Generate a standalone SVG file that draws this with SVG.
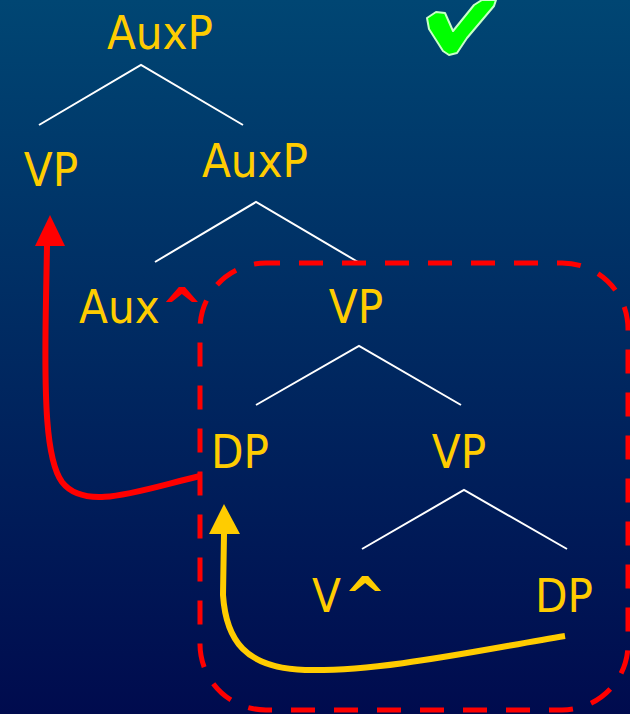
<svg xmlns="http://www.w3.org/2000/svg" width="630" height="714" viewBox="0 0 630 714">
  <defs>
    <linearGradient id="bg" x1="0" y1="0" x2="0" y2="1">
      <stop offset="0" stop-color="#004673"/>
      <stop offset="1" stop-color="#000B4E"/>
    </linearGradient>
  </defs>
  <style>
    .lbl { font-family: "DejaVu Sans Condensed", "DejaVu Sans", sans-serif; font-size: 47px; fill: #FFCC00; }
    .hat { font-weight: bold; font-size: 56px; }
    .red { fill: #FF0000; }
    .branch { stroke: #FFFFFF; stroke-width: 2; fill: none; }
  </style>

  <rect width="630" height="714" fill="url(#bg)"/>

  <!-- tick mark -->
  <polygon points="427,18 436,12 445,13 453,31 474,5 482,0 496,0 494,6 467,38 457,53 449,55 443,51 429,29" fill="#00FF00" stroke="#C8FFC8" stroke-width="2" stroke-linejoin="round"/>

  <!-- tree branches -->
  <g id="branches">
    <polyline class="branch" points="39,125 141,65 243,125"/>
    <polyline class="branch" points="155,262 256,202 358,262"/>
    <polyline class="branch" points="256,405 359,346 461,405"/>
    <polyline class="branch" points="362,549 464,490 567,549"/>
  </g>

  <!-- nodes -->
  <g id="auxp-root"><text class="lbl" x="160" y="49" text-anchor="middle">AuxP</text></g>
  <g id="vp-spec"><text class="lbl" x="51" y="186" text-anchor="middle">VP</text></g>
  <g id="auxp-bar"><text class="lbl" x="255" y="177" text-anchor="middle">AuxP</text></g>
  <g id="aux-head"><text class="lbl" x="79" y="323">Aux<tspan class="hat red" dx="1" dy="4">^</tspan></text></g>
  <g id="vp-comp"><text class="lbl" x="356" y="323" text-anchor="middle">VP</text></g>
  <g id="dp-spec"><text class="lbl" x="240" y="468" text-anchor="middle">DP</text></g>
  <g id="vp-inner"><text class="lbl" x="459" y="468" text-anchor="middle">VP</text></g>
  <g id="v-head"><text class="lbl" x="312" y="612">V<tspan class="hat" dx="3" dy="4">^</tspan></text></g>
  <g id="dp-obj"><text class="lbl" x="564" y="612" text-anchor="middle">DP</text></g>

  <!-- movement box and arrows -->
  <g id="connectors">
    <rect x="200" y="263" width="428" height="447" rx="66" ry="66" fill="none" stroke="#FF0000" stroke-width="5" stroke-dasharray="24 19" stroke-dashoffset="10"/>
    <path d="M200,476 C140,490 85,512 62,482 C46,460 44,400 46,300 L47,246" fill="none" stroke="#FF0000" stroke-width="6"/>
    <polygon points="50,215 35,246 65,246" fill="#FF0000"/>
    <path d="M565,636 C480,650 380,672 305,670 C245,668 226,640 223,595 L224,534" fill="none" stroke="#FFCC00" stroke-width="6"/>
    <polygon points="224,504 209,534 240,534" fill="#FFCC00"/>
  </g>
</svg>
